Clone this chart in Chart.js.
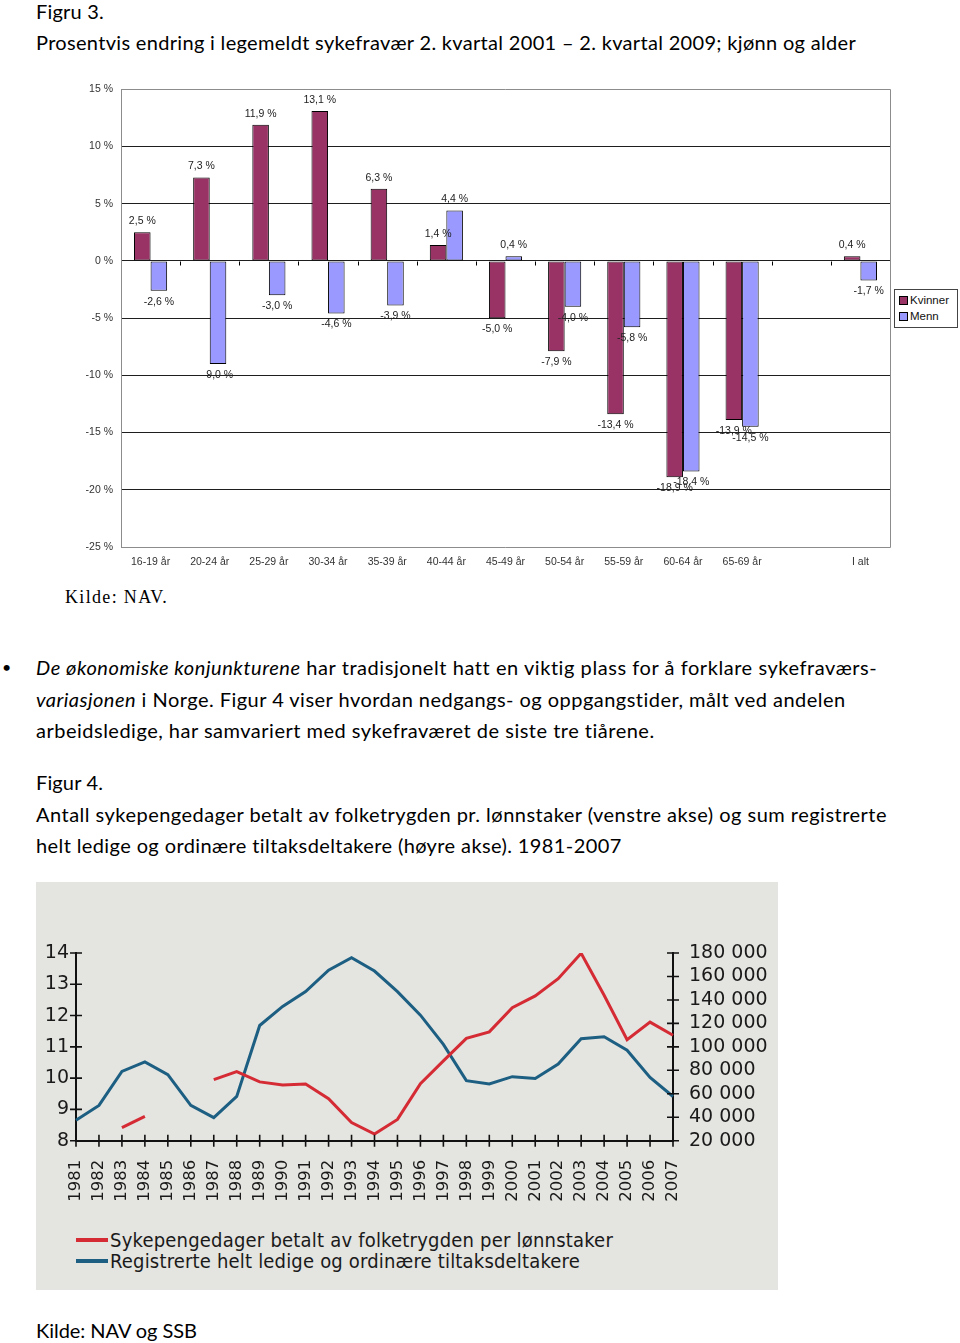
<!DOCTYPE html>
<html><head><meta charset="utf-8">
<script src="https://cdn.jsdelivr.net/npm/chart.js@4.4.1/dist/chart.umd.min.js"></script>
<style>
html,body{margin:0;padding:0;background:#fff;}
body{width:960px;height:1343px;position:relative;overflow:hidden;font-family:Lato,"Open Sans",sans-serif;color:#000;}
.t{position:absolute;left:36px;font-size:20px;line-height:22px;white-space:nowrap;display:inline-block;}
#c1wrap{position:absolute;left:60px;top:75px;width:900px;height:505px;}
#c2box{position:absolute;left:36px;top:882px;width:742px;height:408px;background:#e4e4e0;}
#c2wrap{position:absolute;left:0;top:0;width:742px;height:330px;}
#lg1{position:absolute;left:894px;top:289px;width:64px;height:39px;border:1px solid #444;background:#fff;font:11.5px "Liberation Sans",Arial,sans-serif;color:#111;box-sizing:border-box;}
#lg1 .r{position:absolute;left:4px;height:13px;line-height:13px;white-space:nowrap;}
#lg1 .sw{display:inline-block;width:7px;height:7px;border:1px solid #000;margin-right:2px;vertical-align:-1px;}
.lg2{position:absolute;left:40px;height:20px;line-height:20px;white-space:nowrap;font-family:"DejaVu Sans Condensed","Liberation Sans Narrow","Roboto Condensed",Roboto,sans-serif;font-size:20px;color:#1a1a1a;}
.lg2 .ln{position:absolute;left:0;top:8px;width:32px;height:4px;}
.lg2 .tx{position:absolute;left:34px;top:0;display:inline-block;}
</style></head>
<body>
<div class="t fit" data-w="68" style="top:0px">Figru 3.</div>
<div class="t fit" data-w="820" style="top:31px">Prosentvis endring i legemeldt sykefravær 2. kvartal 2001 – 2. kvartal 2009; kjønn og alder</div>

<div id="c1wrap"><canvas id="c1" width="900" height="505"></canvas></div>
<div id="lg1">
  <div class="r" style="top:4px"><span class="sw" style="background:#993366"></span>Kvinner</div>
  <div class="r" style="top:20px"><span class="sw" style="background:#9999ff"></span>Menn</div>
</div>
<div style="position:absolute;left:65px;top:586px;font:18px 'Liberation Serif','DejaVu Serif',serif;line-height:22px;white-space:nowrap;display:inline-block;" class="fit" data-w="103">Kilde: NAV.</div>

<div style="position:absolute;left:2px;top:656px;font-size:16px;line-height:22px;">•</div>
<div class="t fit" data-w="841" style="top:656px"><i>De økonomiske konjunkturene</i> har tradisjonelt hatt en viktig plass for å forklare sykefraværs-</div>
<div class="t fit" data-w="810" style="top:688px"><i>variasjonen</i> i Norge. Figur 4 viser hvordan nedgangs- og oppgangstider, målt ved andelen</div>
<div class="t fit" data-w="619" style="top:719px">arbeidsledige, har samvariert med sykefraværet de siste tre tiårene.</div>
<div class="t fit" data-w="67" style="top:771px">Figur 4.</div>
<div class="t fit" data-w="851" style="top:803px">Antall sykepengedager betalt av folketrygden pr. lønnstaker (venstre akse) og sum registrerte</div>
<div class="t fit" data-w="586" style="top:834px">helt ledige og ordinære tiltaksdeltakere (høyre akse). 1981-2007</div>

<div id="c2box">
  <div id="c2wrap"><canvas id="c2" width="742" height="330"></canvas></div>
  <div class="lg2" style="top:348px"><div class="ln" style="background:#d52b35"></div><span class="tx fit" data-w="503">Sykepengedager betalt av folketrygden per lønnstaker</span></div>
  <div class="lg2" style="top:369px"><div class="ln" style="background:#1d5f82"></div><span class="tx fit" data-w="470">Registrerte helt ledige og ordinære tiltaksdeltakere</span></div>
</div>

<div class="t fit" data-w="161" style="top:1319px">Kilde: NAV og SSB</div>

<script>
// ---------- Figur 3 data ----------
const ageGroups = ['16-19 år','20-24 år','25-29 år','30-34 år','35-39 år','40-44 år','45-49 år','50-54 år','55-59 år','60-64 år','65-69 år','','I alt'];
const kvinner = [2.5, 7.3, 11.9, 13.1, 6.3, 1.4, -5.0, -7.9, -13.4, -18.9, -13.9, null, 0.4];
const menn    = [-2.6, -9.0, -3.0, -4.6, -3.9, 4.4, 0.4, -4.0, -5.8, -18.4, -14.5, null, -1.7];
const pctMin = -25, pctMax = 15, pctStep = 5;

// ---------- Figur 4 data ----------
const years = ['1981','1982','1983','1984','1985','1986','1987','1988','1989','1990','1991','1992','1993','1994','1995','1996','1997','1998','1999','2000','2001','2002','2003','2004','2005','2006','2007'];
const sykepengedager = [null, null, 8.42, 8.78, null, null, 9.95, 10.21, 9.88, 9.78, 9.81, 9.34, 8.58, 8.21, 8.68, 9.82, 10.55, 11.27, 11.48, 12.25, 12.63, 13.18, 13.99, 12.65, 11.23, 11.79, 11.37];
const ledige = [37500, 50100, 79000, 87200, 76300, 50100, 39700, 57700, 118200, 134500, 147100, 165400, 176000, 164600, 147100, 127000, 102100, 71200, 68400, 74600, 73100, 85300, 106900, 108600, 97100, 74000, 57700];
const leftMin = 8, leftMax = 14;
const rightMin = 20000, rightMax = 180000, rightStep = 20000;

function fitText(){
  document.querySelectorAll('.fit').forEach(el=>{
    el.style.letterSpacing = '0px';
    const w = el.getBoundingClientRect().width;
    const target = +el.dataset.w;
    const n = el.textContent.length;
    if(n>1) el.style.letterSpacing = ((target - w)/n) + 'px';
  });
}
fitText();
if(document.fonts && document.fonts.ready) document.fonts.ready.then(fitText);

const fmtPct = v => v.toFixed(1).replace('.', ',') + ' %';
const fmtThousands = v => String(v).replace(/\B(?=(\d{3})+(?!\d))/g, ' ');

Chart.defaults.animation = false;

// ---- plugins chart 1 ----
const barLabels = {
  id:'barLabels',
  afterDatasetsDraw(chart){
    const ctx = chart.ctx;
    ctx.save();
    ctx.font = '10.5px "Liberation Sans", Arial, sans-serif';
    ctx.fillStyle = '#222';
    ctx.textAlign = 'center'; ctx.textBaseline = 'middle';
    chart.data.datasets.forEach((ds,i)=>{
      const meta = chart.getDatasetMeta(i);
      meta.data.forEach((el,j)=>{
        const v = ds.data[j];
        if(v === null || v === undefined) return;
        const y = v >= 0 ? el.y - 11 : el.y + 11;
        ctx.fillText(fmtPct(v), el.x, y);
      });
    });
    ctx.restore();
  }
};
const frame1 = {
  id:'frame1',
  beforeDatasetsDraw(chart){
    const {ctx, chartArea:a, scales:{x,y}} = chart;
    ctx.save();
    ctx.strokeStyle = '#8c8c8c'; ctx.lineWidth = 1;
    ctx.beginPath();
    ctx.moveTo(a.left, Math.round(a.top)+0.5);
    ctx.lineTo(Math.round(a.right)+0.5, Math.round(a.top)+0.5);
    ctx.lineTo(Math.round(a.right)+0.5, Math.round(a.bottom)+0.5);
    ctx.lineTo(a.left, Math.round(a.bottom)+0.5);
    ctx.stroke();
    const z = Math.round(y.getPixelForValue(0)) + 0.5;
    const n = x.ticks.length;
    const w = (a.right - a.left) / n;
    ctx.strokeStyle = '#000';
    ctx.beginPath();
    for(let k=1;k<n;k++){
      const px = Math.round(x.getPixelForValue(k) - w/2) + 0.5;
      ctx.moveTo(px, z); ctx.lineTo(px, z+4);
    }
    ctx.stroke();
    ctx.restore();
  }
};

new Chart(document.getElementById('c1'), {
  type:'bar',
  data:{
    labels: ageGroups,
    datasets:[
      {label:'Kvinner', data:kvinner, backgroundColor:'#993366', borderColor:'#000', borderWidth:1, borderSkipped:false, categoryPercentage:0.56, barPercentage:1.0},
      {label:'Menn', data:menn, backgroundColor:'#9999ff', borderColor:'#000', borderWidth:1, borderSkipped:false, categoryPercentage:0.56, barPercentage:1.0}
    ]
  },
  options:{
    responsive:false,
    animation:false,
    layout:{padding:{top:9, right:70, left:0, bottom:0}},
    plugins:{legend:{display:false}, tooltip:{enabled:false}},
    scales:{
      x:{
        grid:{display:false, drawTicks:false},
        border:{display:false},
        ticks:{padding:9, color:'#333', font:{family:'"Liberation Sans", Arial, sans-serif', size:10.5}, maxRotation:0, autoSkip:false},
        afterFit(s){ s.height = 33; }
      },
      y:{
        min:pctMin, max:pctMax,
        ticks:{stepSize:pctStep, padding:8, color:'#333', font:{family:'"Liberation Sans", Arial, sans-serif', size:10.5}, callback:v=>v+' %'},
        grid:{drawTicks:false, color:ctx=> (ctx.tick && (ctx.tick.value===pctMax || ctx.tick.value===pctMin)) ? 'rgba(0,0,0,0)' : '#1e1e1e', lineWidth:1},
        border:{display:true, color:'#8c8c8c', width:1},
        afterFit(s){ s.width = 61; }
      }
    }
  },
  plugins:[frame1, barLabels]
});

// ---- plugins chart 2 ----
const crossTicks = {
  id:'crossTicks',
  afterDraw(chart){
    const {ctx, scales} = chart;
    const L = 6;
    ctx.save(); ctx.strokeStyle = '#111'; ctx.lineWidth = 1.6; ctx.beginPath();
    const sx = scales.x;
    sx.ticks.forEach((t,i)=>{ const px = sx.getPixelForTick(i); ctx.moveTo(px, sx.top-L); ctx.lineTo(px, sx.top+L); });
    ['y','y1'].forEach(id=>{
      const s = scales[id];
      const ax = s.position === 'left' ? s.right : s.left;
      s.ticks.forEach((t,i)=>{ const py = s.getPixelForTick(i); ctx.moveTo(ax-L, py); ctx.lineTo(ax+L, py); });
    });
    ctx.stroke(); ctx.restore();
  }
};

const axFont = {family:'"DejaVu Sans", Verdana, sans-serif', size:19};
new Chart(document.getElementById('c2'), {
  type:'line',
  data:{
    labels: years,
    datasets:[
      {label:'Sykepengedager betalt av folketrygden per lønnstaker', data:sykepengedager, yAxisID:'y', borderColor:'#d52b35', borderWidth:3, pointRadius:0, tension:0, spanGaps:false, fill:false},
      {label:'Registrerte helt ledige og ordinære tiltaksdeltakere', data:ledige, yAxisID:'y1', borderColor:'#1d5f82', borderWidth:3, pointRadius:0, tension:0, fill:false}
    ]
  },
  options:{
    responsive:false,
    animation:false,
    layout:{padding:{top:71, right:0, left:0, bottom:0}},
    plugins:{legend:{display:false}, tooltip:{enabled:false}},
    scales:{
      x:{
        offset:false,
        grid:{display:false, drawTicks:false},
        border:{display:true, color:'#111', width:2},
        ticks:{padding:19, color:'#1a1a1a', autoSkip:false, minRotation:90, maxRotation:90, font:{family:'"DejaVu Sans", Verdana, sans-serif', size:16.5}},
        afterFit(s){ s.height = 71.3; }
      },
      y:{
        position:'left', min:leftMin, max:leftMax,
        grid:{display:false, drawTicks:false},
        border:{display:true, color:'#111', width:2},
        ticks:{stepSize:1, padding:7, autoSkip:false, color:'#1a1a1a', font:axFont},
        afterFit(s){ s.width = 40; }
      },
      y1:{
        position:'right', min:rightMin, max:rightMax,
        grid:{display:false, drawTicks:false},
        border:{display:true, color:'#111', width:2},
        ticks:{stepSize:rightStep, padding:16, autoSkip:false, color:'#1a1a1a', font:axFont, callback:v=>fmtThousands(v)},
        afterFit(s){ s.width = 105; }
      }
    }
  },
  plugins:[crossTicks]
});
</script>
</body></html>
